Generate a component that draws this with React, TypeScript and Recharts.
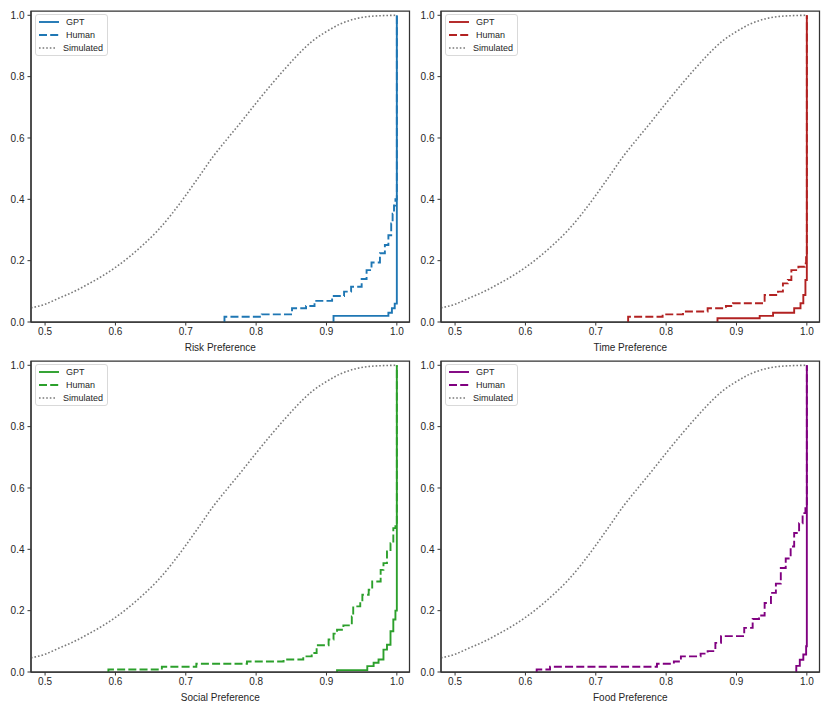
import React from 'react';
import { LineChart, Line, XAxis, YAxis, Legend, ReferenceArea } from 'recharts';

// Simulated CDF (shared by all panels)
const simX = [0.48, 0.50, 0.52, 0.54, 0.56, 0.58, 0.60, 0.62, 0.64, 0.66, 0.68, 0.70, 0.72, 0.74, 0.76, 0.78, 0.80, 0.82, 0.84, 0.86, 0.88, 0.90, 0.92, 0.94, 0.96, 0.98, 1.00];
const simY = [0.046, 0.058, 0.078, 0.098, 0.122, 0.148, 0.178, 0.213, 0.253, 0.298, 0.352, 0.413, 0.478, 0.543, 0.600, 0.656, 0.714, 0.770, 0.823, 0.873, 0.916, 0.947, 0.972, 0.988, 0.996, 0.999, 1.000];

// Risk
const riskGptX = [0.910, 0.910, 0.988, 0.993, 0.997, 1.0];
const riskGptY = [0, 0.020, 0.030, 0.045, 0.060, 1.0];
const riskHumanX = [0.755, 0.755, 0.808, 0.851, 0.871, 0.883, 0.908, 0.925, 0.935, 0.950, 0.957, 0.964, 0.976, 0.983, 0.988, 0.992, 0.994, 0.996, 0.998, 1.0];
const riskHumanY = [0, 0.017, 0.025, 0.045, 0.052, 0.069, 0.085, 0.099, 0.115, 0.140, 0.169, 0.194, 0.224, 0.251, 0.283, 0.321, 0.353, 0.380, 0.400, 1.0];

// Time
const timeGptX = [0.873, 0.873, 0.933, 0.952, 0.982, 0.991, 0.995, 0.998, 1.0];
const timeGptY = [0, 0.012, 0.020, 0.030, 0.045, 0.061, 0.088, 0.137, 1.0];
const timeHumanX = [0.746, 0.746, 0.795, 0.824, 0.859, 0.885, 0.895, 0.940, 0.959, 0.966, 0.973, 0.978, 0.988, 0.997, 0.999, 1.0];
const timeHumanY = [0, 0.017, 0.025, 0.034, 0.045, 0.052, 0.061, 0.088, 0.099, 0.126, 0.137, 0.169, 0.180, 0.191, 0.211, 1.0];

// Social
const socialGptX = [0.915, 0.915, 0.958, 0.967, 0.974, 0.981, 0.986, 0.991, 0.995, 0.998, 1.0];
const socialGptY = [0, 0.006, 0.019, 0.030, 0.041, 0.073, 0.089, 0.133, 0.171, 0.200, 1.0];
const socialHumanX = [0.590, 0.590, 0.666, 0.715, 0.787, 0.839, 0.867, 0.879, 0.886, 0.903, 0.910, 0.915, 0.924, 0.936, 0.938, 0.948, 0.951, 0.960, 0.965, 0.977, 0.981, 0.986, 0.991, 0.995, 0.998, 1.0];
const socialHumanY = [0, 0.008, 0.017, 0.027, 0.034, 0.041, 0.051, 0.062, 0.087, 0.106, 0.125, 0.138, 0.152, 0.181, 0.214, 0.230, 0.252, 0.268, 0.295, 0.333, 0.355, 0.393, 0.420, 0.469, 0.475, 1.0];

// Food
const foodGptX = [0.985, 0.985, 0.990, 0.995, 0.999, 1.0];
const foodGptY = [0, 0.020, 0.040, 0.057, 0.084, 1.0];
const foodHumanX = [0.616, 0.616, 0.635, 0.787, 0.811, 0.821, 0.849, 0.859, 0.870, 0.878, 0.911, 0.923, 0.932, 0.940, 0.949, 0.956, 0.963, 0.970, 0.977, 0.982, 0.989, 0.994, 0.998, 1.0];
const foodHumanY = [0, 0.008, 0.017, 0.027, 0.034, 0.051, 0.060, 0.068, 0.095, 0.117, 0.144, 0.173, 0.184, 0.225, 0.258, 0.288, 0.339, 0.370, 0.409, 0.453, 0.485, 0.518, 0.534, 1.0];

const xTicks = [0.5, 0.6, 0.7, 0.8, 0.9, 1.0];
const yTicks = [0, 0.2, 0.4, 0.6, 0.8, 1.0];
const X_MIN = 0.48;
const X_MAX = 1.018;
const Y_MIN = 0;
const Y_MAX = 1.014;

const zip = (xs: number[], ys: number[]) => xs.map((x, i) => ({ x, y: ys[i] }));
const simData = zip(simX, simY);

const FONT = '"Liberation Sans", Arial, Helvetica, sans-serif';
const AXIS = '#333333';
const TEXT = '#262626';
const SIM_COLOR = '#7a7a7a';

const GPT_W = 1.9;
const HUM_W = 1.9;
const SIM_W = 1.6;
const HUM_DASH = '8 3.2';
const SIM_DASH = '1.6 2';

function LegendBox({ color }: { color: string }) {
  const rows = [
    { label: 'GPT', stroke: color, dash: undefined as string | undefined, w: GPT_W },
    { label: 'Human', stroke: color, dash: HUM_DASH, w: HUM_W },
    { label: 'Simulated', stroke: SIM_COLOR, dash: SIM_DASH, w: SIM_W },
  ];
  return (
    <div
      style={{
        border: '1px solid #d9d9d9',
        borderRadius: 3,
        background: 'rgba(255,255,255,0.85)',
        padding: '1px 4px 1px 2px',
        fontFamily: FONT,
        fontSize: 9,
        color: TEXT,
        width: 65,
      }}
    >
      {rows.map((r) => (
        <div key={r.label} style={{ display: 'flex', alignItems: 'center', height: 12.8 }}>
          <svg width={22} height={6} style={{ marginRight: 6, display: 'block' }}>
            <line x1={1} y1={3} x2={21} y2={3} stroke={r.stroke} strokeWidth={r.w} strokeDasharray={r.dash} />
          </svg>
          <span style={{ whiteSpace: 'nowrap' }}>{r.label}</span>
        </div>
      ))}
    </div>
  );
}

type PanelProps = {
  left: number;
  top: number;
  color: string;
  label: string;
  gpt: { x: number; y: number }[];
  human: { x: number; y: number }[];
};

function Panel({ left, top, color, label, gpt, human }: PanelProps) {
  return (
    <div style={{ position: 'absolute', left, top, width: 415, height: 355 }}>
      <LineChart width={415} height={355} margin={{ top: 11, right: 5.5, bottom: 0, left: 1 }}>
        <XAxis
          type="number"
          dataKey="x"
          domain={[X_MIN, X_MAX]}
          allowDataOverflow
          ticks={xTicks}
          tickFormatter={(v: number) => v.toFixed(1)}
          height={33}
          tickSize={3.5}
          tickMargin={2}
          tick={{ fontSize: 10, fill: TEXT, fontFamily: FONT }}
          axisLine={{ stroke: AXIS, strokeWidth: 1.25 }}
          tickLine={{ stroke: AXIS, strokeWidth: 1 }}
          label={{ value: label, position: 'insideBottom', offset: 4, style: { fontSize: 10, fill: TEXT, fontFamily: FONT } }}
        />
        <YAxis
          type="number"
          domain={[Y_MIN, Y_MAX]}
          allowDataOverflow
          ticks={yTicks}
          tickFormatter={(v: number) => v.toFixed(1)}
          width={30}
          tickSize={3.5}
          tickMargin={3}
          tick={{ fontSize: 10, fill: TEXT, fontFamily: FONT }}
          axisLine={{ stroke: AXIS, strokeWidth: 1.25 }}
          tickLine={{ stroke: AXIS, strokeWidth: 1 }}
        />
        <ReferenceArea
          x1={X_MIN}
          x2={X_MAX}
          y1={Y_MIN}
          y2={Y_MAX}
          ifOverflow="visible"
          fill="none"
          stroke={AXIS}
          strokeWidth={1.25}
        />
        <Line
          data={gpt}
          dataKey="y"
          name="GPT"
          type="stepAfter"
          stroke={color}
          strokeWidth={GPT_W}
          dot={false}
          activeDot={false}
          isAnimationActive={false}
        />
        <Line
          data={human}
          dataKey="y"
          name="Human"
          type="stepAfter"
          stroke={color}
          strokeWidth={HUM_W}
          strokeDasharray={HUM_DASH}
          dot={false}
          activeDot={false}
          isAnimationActive={false}
        />
        <Line
          data={simData}
          dataKey="y"
          name="Simulated"
          type="monotone"
          stroke={SIM_COLOR}
          strokeWidth={SIM_W}
          strokeDasharray={SIM_DASH}
          dot={false}
          activeDot={false}
          isAnimationActive={false}
        />
        <Legend
          layout="horizontal"
          align="center"
          verticalAlign="middle"
          content={() => <LegendBox color={color} />}
          wrapperStyle={{ position: 'absolute', left: 35, top: 14, width: 'auto', height: 'auto' }}
        />
      </LineChart>
    </div>
  );
}

export default function App() {
  return (
    <div style={{ position: 'absolute', left: 0, top: 0, width: 830, height: 712, background: '#fff' }}>
      <Panel left={0} top={0} color="#1f77b4" label="Risk Preference" gpt={zip(riskGptX, riskGptY)} human={zip(riskHumanX, riskHumanY)} />
      <Panel left={410} top={0} color="#b22222" label="Time Preference" gpt={zip(timeGptX, timeGptY)} human={zip(timeHumanX, timeHumanY)} />
      <Panel left={0} top={350} color="#2ca02c" label="Social Preference" gpt={zip(socialGptX, socialGptY)} human={zip(socialHumanX, socialHumanY)} />
      <Panel left={410} top={350} color="#800080" label="Food Preference" gpt={zip(foodGptX, foodGptY)} human={zip(foodHumanX, foodHumanY)} />
    </div>
  );
}
